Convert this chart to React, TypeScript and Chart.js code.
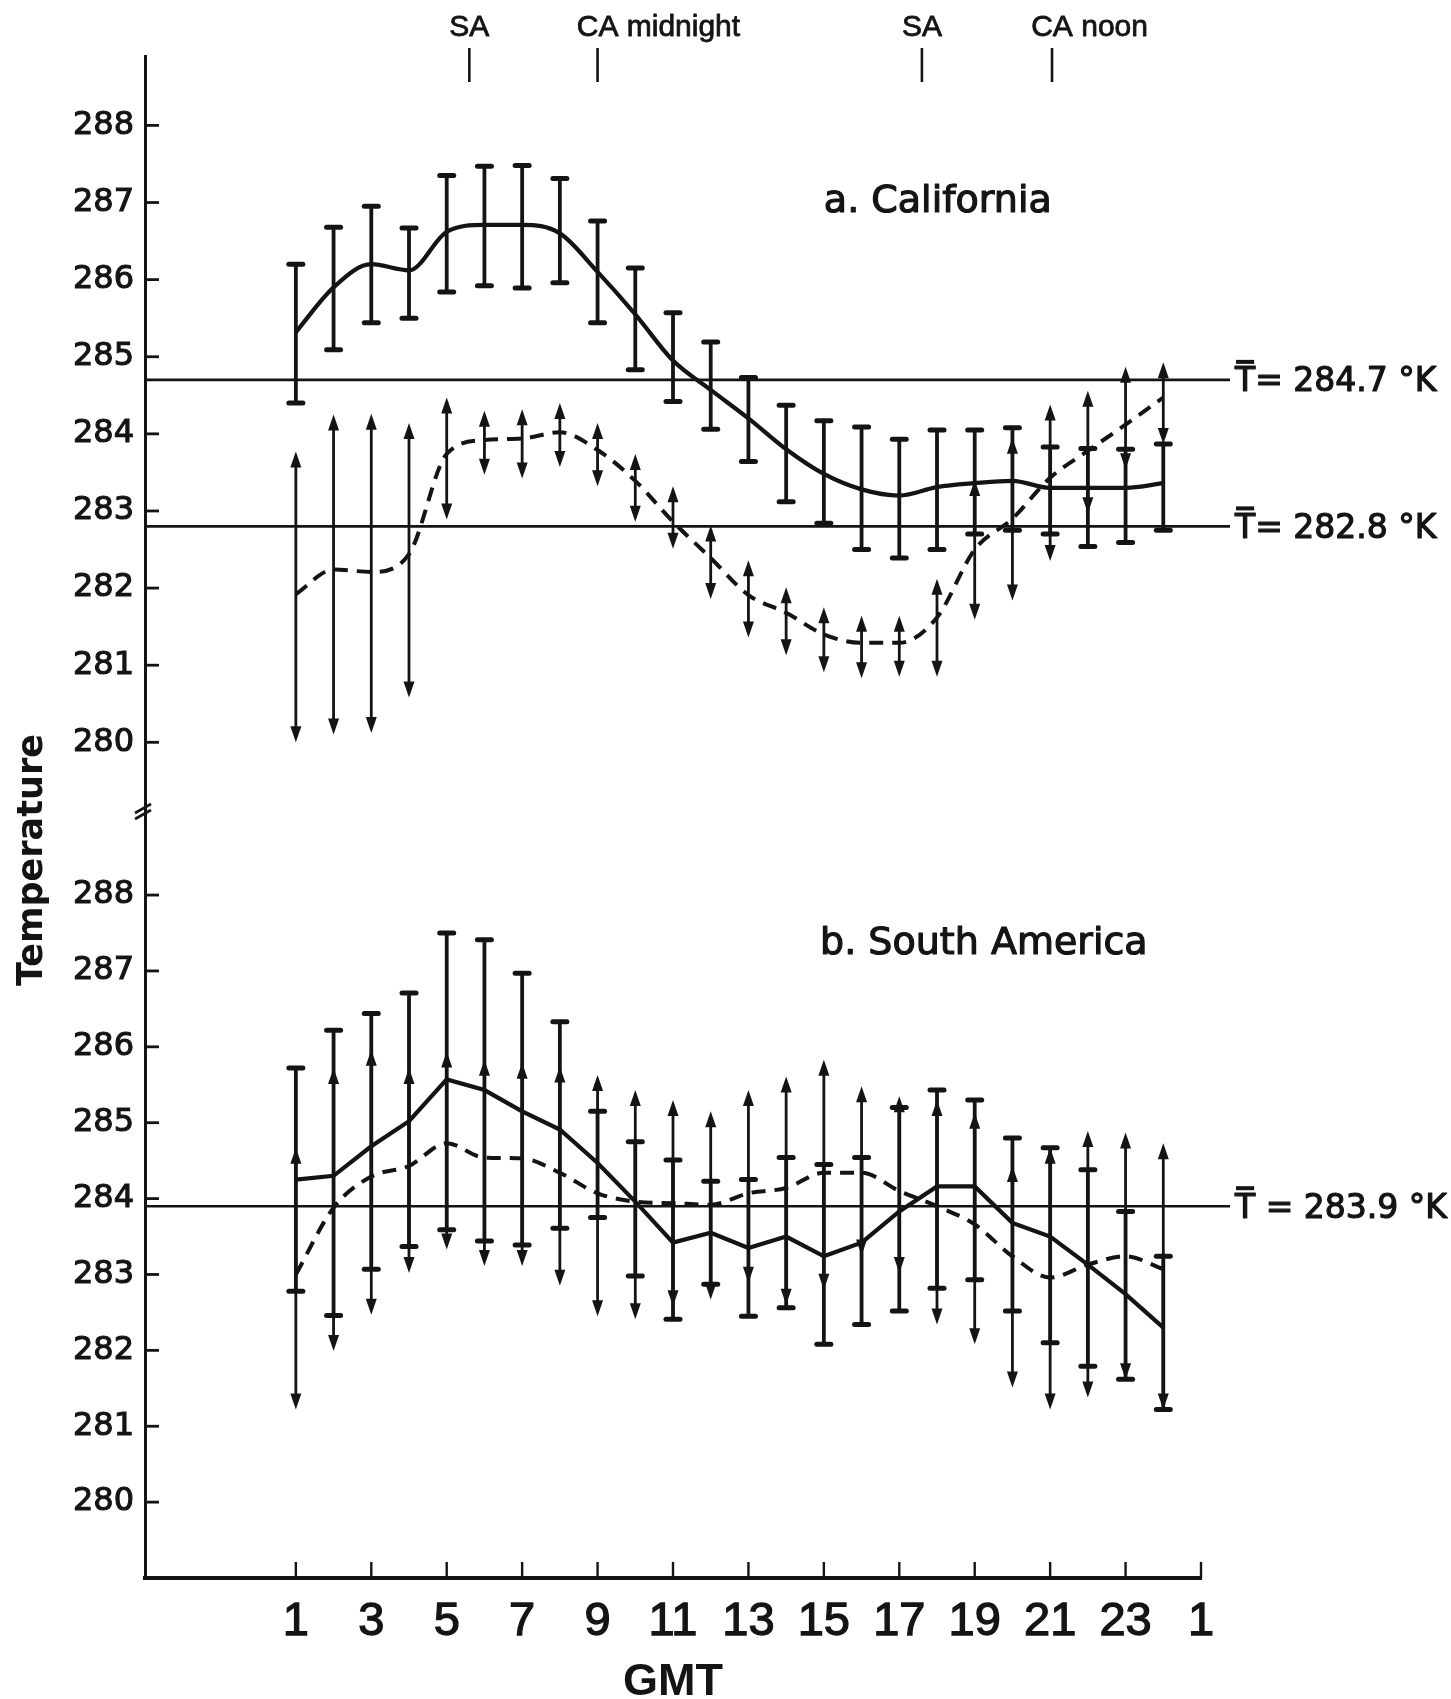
import React, { useEffect, useRef } from 'react';
import { Chart, registerables } from 'chart.js';

Chart.register(...registerables);

// ---------- data ----------
const hours = [1, 2, 3, 4, 5, 6, 7, 8, 9, 10, 11, 12, 13, 14, 15, 16, 17, 18, 19, 20, 21, 22, 23, 24];

// a. California
const caSolid = [285.32, 285.9, 286.2, 286.12, 286.62, 286.71, 286.71, 286.6, 286.1, 285.55, 284.95, 284.57, 284.2, 283.8, 283.48, 283.28, 283.2, 283.31, 283.36, 283.39, 283.3, 283.3, 283.3, 283.36];
const caSolidLo = [284.4, 285.09, 285.44, 285.5, 285.84, 285.92, 285.89, 285.96, 285.44, 284.83, 284.42, 284.06, 283.64, 283.12, 282.84, 282.5, 282.39, 282.5, 282.7, 282.75, 282.7, 282.54, 282.59, 282.75];
const caSolidHi = [286.2, 286.68, 286.95, 286.67, 287.35, 287.47, 287.48, 287.31, 286.76, 286.15, 285.57, 285.19, 284.73, 284.37, 284.17, 284.09, 283.93, 284.05, 284.05, 284.08, 283.83, 283.81, 283.8, 283.87];
const caDashed = [281.92, 282.24, 282.21, 282.44, 283.74, 283.92, 283.94, 284.02, 283.79, 283.39, 282.86, 282.39, 281.91, 281.68, 281.4, 281.29, 281.29, 281.62, 282.5, 282.9, 283.43, 283.78, 284.12, 284.47];
const caDashedLo = [280.0, 280.1, 280.12, 280.58, 282.89, 283.47, 283.42, 283.57, 283.32, 282.86, 282.51, 281.86, 281.36, 281.13, 280.91, 280.83, 280.85, 280.85, 281.59, 281.84, 282.35, 282.97, 283.54, 283.87];
const caDashedHi = [283.77, 284.25, 284.26, 284.14, 284.47, 284.3, 284.32, 284.4, 284.14, 283.74, 283.32, 282.81, 282.36, 282.01, 281.75, 281.64, 281.64, 282.12, 283.4, 283.95, 284.38, 284.56, 284.87, 284.93];

// b. South America
const saSolid = [284.25, 284.3, 284.69, 285.02, 285.57, 285.43, 285.15, 284.91, 284.47, 283.96, 283.42, 283.55, 283.35, 283.5, 283.24, 283.42, 283.83, 284.16, 284.16, 283.68, 283.5, 283.13, 282.74, 282.3];
const saSolidLo = [282.78, 282.46, 283.07, 283.37, 283.59, 283.44, 283.39, 283.61, 283.75, 282.98, 282.41, 282.87, 282.45, 282.56, 282.08, 282.34, 282.52, 282.82, 282.93, 282.52, 282.1, 281.79, 281.62, 281.22];
const saSolidHi = [285.72, 286.22, 286.44, 286.71, 287.5, 287.41, 286.97, 286.33, 285.15, 284.75, 284.51, 284.23, 284.25, 284.54, 284.45, 284.54, 285.2, 285.43, 285.3, 284.8, 284.67, 284.38, 283.83, 283.24];
const saDashed = [283.0, 283.88, 284.29, 284.43, 284.73, 284.54, 284.53, 284.34, 284.07, 283.96, 283.94, 283.92, 284.07, 284.14, 284.34, 284.34, 284.1, 283.9, 283.66, 283.24, 282.96, 283.13, 283.24, 283.07];
const saDashedLo = [281.22, 281.99, 282.47, 283.02, 283.33, 283.11, 283.11, 282.85, 282.45, 282.41, 282.58, 282.67, 282.89, 282.6, 282.8, 283.25, 283.02, 282.34, 282.08, 281.51, 281.22, 281.38, 281.62, 281.22];
const saDashedHi = [284.67, 285.72, 285.96, 285.72, 285.94, 285.83, 285.79, 285.74, 285.63, 285.43, 285.3, 285.15, 285.43, 285.61, 285.83, 285.48, 285.35, 285.3, 285.13, 284.43, 284.67, 284.89, 284.87, 284.73];

const caMeans = [284.7, 282.8];
const caMeanLabels = ['T= 284.7 °K', 'T= 282.8 °K'];
const saMeans = [283.9];
const saMeanLabels = ['T = 283.9 °K'];

const xTickValues = [1, 3, 5, 7, 9, 11, 13, 15, 17, 19, 21, 23, 25];
const xTickLabels = ['1', '3', '5', '7', '9', '11', '13', '15', '17', '19', '21', '23', '1'];
const yTickValues = [280, 281, 282, 283, 284, 285, 286, 287, 288];

const markerHours = [5.6, 9, 17.6, 21.05];
const markerLabels = ['SA', 'CA midnight', 'SA', 'CA noon'];
const panelLabels = ['a. California', 'b. South America'];

// ---------- styling ----------
const INK = '#141414';
const FONT_WIDE = '"DejaVu Sans", "Liberation Sans", sans-serif';
const FONT_NARROW = '"Liberation Sans", Arial, sans-serif';

function seg(ctx: CanvasRenderingContext2D, x1: number, y1: number, x2: number, y2: number) {
  ctx.beginPath();
  ctx.moveTo(x1, y1);
  ctx.lineTo(x2, y2);
  ctx.stroke();
}

function heavyText(ctx: CanvasRenderingContext2D, text: string, x: number, y: number, w = 1.2) {
  ctx.lineWidth = w;
  ctx.lineJoin = 'round';
  ctx.strokeText(text, x, y);
  ctx.fillText(text, x, y);
}

function arrowHead(ctx: CanvasRenderingContext2D, x: number, tipY: number, dir: number) {
  // dir = -1 points up, +1 points down
  const len = 16;
  const half = 5.5;
  ctx.beginPath();
  ctx.moveTo(x, tipY);
  ctx.lineTo(x - half, tipY - dir * len);
  ctx.lineTo(x + half, tipY - dir * len);
  ctx.closePath();
  ctx.fill();
}

const errorSeries = [
  { axis: 'yTop', lo: caSolidLo, hi: caSolidHi, kind: 'cap' },
  { axis: 'yTop', lo: caDashedLo, hi: caDashedHi, kind: 'arrow' },
  { axis: 'yBot', lo: saSolidLo, hi: saSolidHi, kind: 'cap' },
  { axis: 'yBot', lo: saDashedLo, hi: saDashedHi, kind: 'arrow' },
];

const errorBarPlugin = {
  id: 'errorBars',
  afterDatasetsDraw(chart: any) {
    const ctx: CanvasRenderingContext2D = chart.ctx;
    const xs = chart.scales.x;
    ctx.save();
    ctx.strokeStyle = INK;
    ctx.fillStyle = INK;
    for (const s of errorSeries) {
      const ys = chart.scales[s.axis];
      hours.forEach((h, i) => {
        const px = xs.getPixelForValue(h);
        const pLo = ys.getPixelForValue(s.lo[i]);
        const pHi = ys.getPixelForValue(s.hi[i]);
        if (s.kind === 'cap') {
          ctx.lineWidth = 3.8;
          ctx.lineCap = 'butt';
          seg(ctx, px, pHi, px, pLo);
          ctx.lineWidth = 5;
          ctx.lineCap = 'round';
          seg(ctx, px - 7, pHi, px + 7, pHi);
          seg(ctx, px - 7, pLo, px + 7, pLo);
        } else {
          ctx.lineWidth = 2.8;
          ctx.lineCap = 'butt';
          seg(ctx, px, pHi + 6, px, pLo - 6);
          arrowHead(ctx, px, pHi, -1);
          arrowHead(ctx, px, pLo, 1);
        }
      });
    }
    ctx.restore();
  },
};

const decorPlugin = {
  id: 'decor',
  afterDraw(chart: any) {
    const ctx: CanvasRenderingContext2D = chart.ctx;
    const area = chart.chartArea;
    const xs = chart.scales.x;
    const yT = chart.scales.yTop;
    const yB = chart.scales.yBot;
    ctx.save();
    ctx.strokeStyle = INK;
    ctx.fillStyle = INK;

    // inward y ticks
    ctx.lineWidth = 2.8;
    ctx.lineCap = 'butt';
    for (const s of [yT, yB]) {
      for (const v of yTickValues) {
        const py = s.getPixelForValue(v);
        seg(ctx, area.left, py, area.left + 14, py);
      }
    }
    // inward x ticks
    ctx.lineWidth = 2.4;
    for (const v of xTickValues) {
      const px = xs.getPixelForValue(v);
      seg(ctx, px, area.bottom, px, area.bottom - 16);
    }

    // axis break mark
    const by = yT.bottom + 8;
    ctx.lineWidth = 2.6;
    seg(ctx, area.left - 10, by + 1, area.left + 6, by - 8);
    seg(ctx, area.left - 10, by + 7, area.left + 6, by - 2);

    // mean lines + labels
    const drawMean = (scale: any, vals: number[], labels: string[]) => {
      vals.forEach((v, i) => {
        const py = scale.getPixelForValue(v);
        ctx.lineWidth = 2.6;
        seg(ctx, area.left, py, area.right + 29, py);
        ctx.font = '33px ' + FONT_WIDE;
        ctx.textAlign = 'left';
        ctx.textBaseline = 'middle';
        const tx = area.right + 34;
        const ty = py + 3;
        heavyText(ctx, labels[i], tx, ty);
        const tw = ctx.measureText('T').width;
        ctx.fillRect(tx + 1, ty - 23, tw - 2, 4);
      });
    };
    drawMean(yT, caMeans, caMeanLabels);
    drawMean(yB, saMeans, saMeanLabels);

    // panel labels
    ctx.font = '38px ' + FONT_WIDE;
    ctx.textAlign = 'left';
    ctx.textBaseline = 'middle';
    heavyText(ctx, panelLabels[0], xs.getPixelForValue(15.0), yT.getPixelForValue(287.0));
    heavyText(ctx, panelLabels[1], xs.getPixelForValue(14.9), yB.getPixelForValue(287.35));

    // top markers
    ctx.font = '30px ' + FONT_NARROW;
    ctx.textBaseline = 'middle';
    markerHours.forEach((h, i) => {
      const px = xs.getPixelForValue(h);
      ctx.lineWidth = 2.6;
      seg(ctx, px, 48, px, 82);
      const first = markerLabels[i].split(' ')[0];
      const w = ctx.measureText(first).width;
      ctx.textAlign = 'left';
      heavyText(ctx, markerLabels[i], px - w / 2, 28, 0.8);
    });

    // y axis title
    ctx.save();
    ctx.translate(33, 860);
    ctx.rotate(-Math.PI / 2);
    ctx.font = 'bold 35px ' + FONT_WIDE;
    ctx.textAlign = 'center';
    ctx.textBaseline = 'middle';
    ctx.fillText('Temperature', 0, 0);
    ctx.restore();

    ctx.restore();
  },
};

function pts(vals: number[]) {
  return hours.map((h, i) => ({ x: h, y: vals[i] }));
}

export default function App() {
  const ref = useRef<HTMLCanvasElement | null>(null);

  useEffect(() => {
    if (!ref.current) return;
    const yCommon = (min: number, max: number, weight: number) => ({
      type: 'linear' as const,
      position: 'left' as const,
      stack: 'temp',
      stackWeight: weight,
      min,
      max,
      afterBuildTicks: (s: any) => {
        s.ticks = yTickValues.map((v) => ({ value: v }));
      },
      afterFit: (s: any) => {
        s.width = 145;
      },
      ticks: {
        autoSkip: false,
        padding: 11,
        color: INK,
        textStrokeColor: INK,
        textStrokeWidth: 1.1,
        font: { family: FONT_WIDE, size: 32 },
        callback: (v: any) => String(v),
      },
      grid: { drawOnChartArea: false, drawTicks: false },
      border: { display: true, width: 3, color: INK },
    });

    const chart = new Chart(ref.current, {
      type: 'line',
      data: {
        datasets: [
          { label: 'CA solid', data: pts(caSolid), yAxisID: 'yTop', borderColor: INK, borderWidth: 4.2, cubicInterpolationMode: 'monotone', pointRadius: 0, fill: false },
          { label: 'CA dashed', data: pts(caDashed), yAxisID: 'yTop', borderColor: INK, borderWidth: 4, borderDash: [14, 9], cubicInterpolationMode: 'monotone', pointRadius: 0, fill: false },
          { label: 'SA solid', data: pts(saSolid), yAxisID: 'yBot', borderColor: INK, borderWidth: 4.2, tension: 0, pointRadius: 0, fill: false },
          { label: 'SA dashed', data: pts(saDashed), yAxisID: 'yBot', borderColor: INK, borderWidth: 4, borderDash: [14, 9], cubicInterpolationMode: 'monotone', pointRadius: 0, fill: false },
        ],
      },
      options: {
        animation: false,
        responsive: false,
        devicePixelRatio: 1,
        layout: { padding: { left: 0, top: 56, right: 250, bottom: 0 } },
        plugins: {
          legend: { display: false },
          tooltip: { enabled: false },
          title: { display: false },
        },
        elements: { point: { radius: 0 } },
        scales: {
          x: {
            type: 'linear',
            position: 'bottom',
            min: -3,
            max: 25,
            afterBuildTicks: (s: any) => {
              s.ticks = xTickValues.map((v) => ({ value: v }));
            },
            afterFit: (s: any) => {
              s.height = 121;
            },
            ticks: {
              autoSkip: false,
              maxRotation: 0,
              minRotation: 0,
              padding: 16,
              color: INK,
              textStrokeColor: INK,
              textStrokeWidth: 1.3,
              font: { family: FONT_NARROW, size: 47 },
              callback: (_v: any, i: number) => xTickLabels[i],
            },
            grid: { drawOnChartArea: false, drawTicks: false },
            border: { display: true, width: 4, color: INK },
            title: {
              display: true,
              text: 'GMT',
              color: INK,
              font: { family: FONT_NARROW, size: 45, weight: 'bold', lineHeight: 0.72 },
              padding: 0,
            },
          },
          yBot: yCommon(279.0, 289.2, 774),
          yTop: yCommon(279.2, 288.9, 748),
        } as any,
      },
      plugins: [errorBarPlugin, decorPlugin],
    } as any);
    return () => chart.destroy();
  }, []);

  return (
    <canvas
      ref={ref}
      width={1451}
      height={1699}
      style={{ position: 'fixed', left: 0, top: 0, width: 1451, height: 1699, display: 'block', background: '#ffffff' }}
    />
  );
}
